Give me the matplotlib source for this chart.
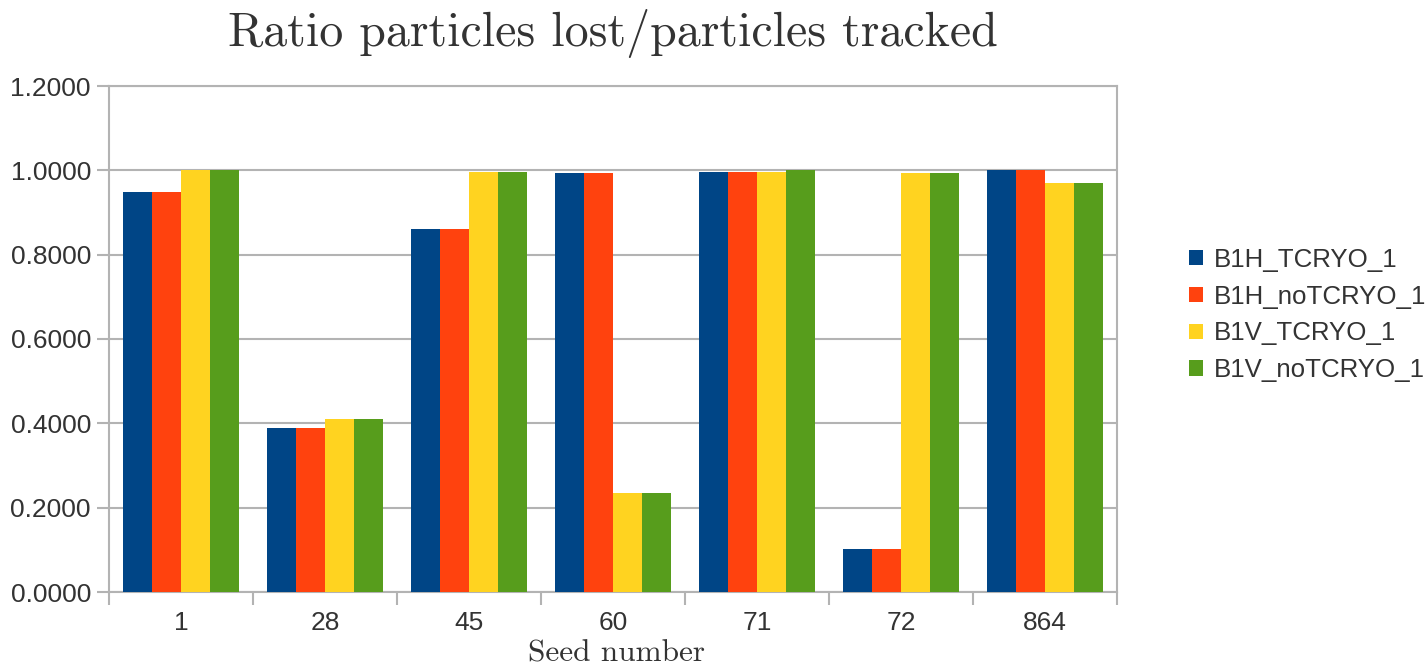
import numpy as np
import matplotlib
matplotlib.use("Agg")
import matplotlib.pyplot as plt
from matplotlib.patches import Patch

# data
seeds = ["1", "28", "45", "60", "71", "72", "864"]
series_names = ["B1H_TCRYO_1", "B1H_noTCRYO_1", "B1V_TCRYO_1", "B1V_noTCRYO_1"]
b1h_tcryo = [0.949, 0.389, 0.861, 0.994, 0.996, 0.102, 1.000]
b1h_notcryo = [0.949, 0.389, 0.861, 0.994, 0.996, 0.102, 1.000]
b1v_tcryo = [1.000, 0.410, 0.996, 0.235, 0.996, 0.994, 0.970]
b1v_notcryo = [1.000, 0.410, 0.996, 0.235, 1.000, 0.994, 0.970]
colors = ["#004586", "#ff420e", "#ffd320", "#579d1c"]

text_col = "#333333"
grid_col = "#b3b3b3"

fig = plt.figure(figsize=(14.26, 6.68), dpi=100)
ax = fig.add_axes([109 / 1426, 1 - 592 / 668, (1117 - 109) / 1426, (592 - 86) / 668])

x = np.arange(len(seeds))
width = 0.2
all_series = [b1h_tcryo, b1h_notcryo, b1v_tcryo, b1v_notcryo]
for i, (vals, c) in enumerate(zip(all_series, colors)):
    ax.bar(x - 0.3 + i * width, vals, width, color=c, zorder=3, linewidth=0)

ax.set_xlim(-0.5, len(seeds) - 0.5)
ax.set_ylim(0, 1.2)
ax.set_yticks(np.arange(0, 1.21, 0.2))
ax.yaxis.set_major_formatter(matplotlib.ticker.FormatStrFormatter("%.4f"))
ax.set_xticks(x)
ax.set_xticklabels(seeds)
ax.set_xticks(np.arange(-0.5, len(seeds), 1), minor=True)
ax.tick_params(axis="x", which="major", length=0, pad=14)
ax.tick_params(axis="x", which="minor", length=9, color=grid_col, width=1.5)
ax.tick_params(axis="y", length=9, color=grid_col, width=1.5, pad=4)
for lab in ax.get_xticklabels() + ax.get_yticklabels():
    lab.set_fontfamily("Liberation Sans")
    lab.set_fontsize(19)
    lab.set_color(text_col)

ax.grid(axis="y", color=grid_col, linewidth=1.5, zorder=0)
for s in ax.spines.values():
    s.set_color(grid_col)
    s.set_linewidth(1.5)

fig.text(613 / 1426, 1 - 33 / 668, "Ratio particles lost/particles tracked",
         family="cmr10", fontsize=34.5, color=text_col, ha="center", va="center")
fig.text(616 / 1426, 1 - 654 / 668, "Seed number",
         family="cmr10", fontsize=22.5, color=text_col, ha="center", va="center")

handles = [Patch(facecolor=c, edgecolor="none") for c in colors]
leg = fig.legend(handles, series_names, loc="center left",
                 bbox_to_anchor=(1166 / 1426, 1 - 315 / 668), frameon=False,
                 prop={"family": "Liberation Sans", "size": 18.6},
                 handlelength=0.55, handleheight=0.55, handletextpad=0.4,
                 labelspacing=0.5)
for t in leg.get_texts():
    t.set_color(text_col)

fig.savefig("out.png", dpi=100)
